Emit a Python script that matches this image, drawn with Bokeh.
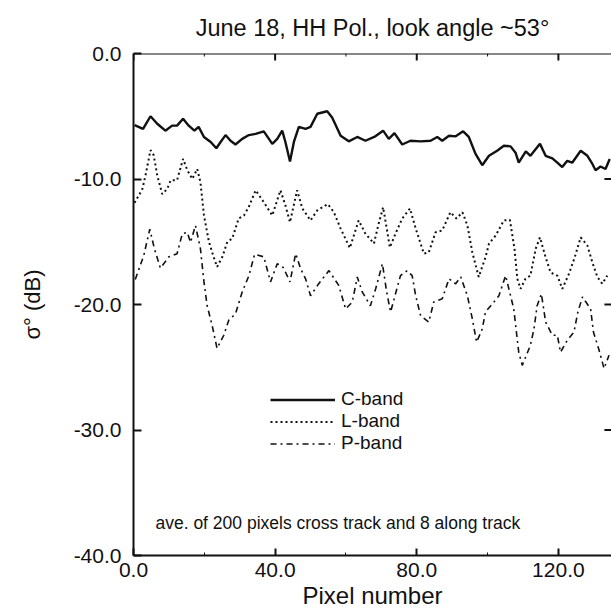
from bokeh.plotting import figure
from bokeh.models import LinearAxis, Range1d, Label, PrintfTickFormatter, FixedTicker, Legend, Span
from bokeh.embed import file_html
from bokeh.resources import INLINE

title_text = "June 18, HH Pol., look angle ~53\u00b0"
x_label = "Pixel number"
y_label = "\u03c3\u00b0 (dB)"
note_text = "ave. of 200 pixels cross track and 8 along track"
series_names = ["C-band", "L-band", "P-band"]
x_ticks = [0, 40, 80, 120]
x_minor_ticks = [20, 60, 100]
y_ticks = [0, -10, -20, -30, -40]
right_ticks = [-10, -20, -30]

c_x = [0.3, 2.7, 4.8, 6.7, 9.0, 10.9, 12.3, 14.0, 15.6, 17.2, 18.4, 19.9, 21.8, 23.4, 24.6, 26.0,
       27.4, 28.8, 30.7, 32.6, 34.5, 36.8, 39.2, 40.6, 42.0, 42.9, 44.2, 45.3, 46.7, 48.6, 50.0,
       51.9, 54.7, 56.1, 58.5, 60.8, 63.2, 65.5, 68.3, 70.5, 72.1, 73.7, 75.9, 78.2, 81.1, 83.9,
       85.8, 87.2, 89.1, 91.0, 93.1, 94.7, 96.6, 98.5, 100.4, 102.7, 104.6, 106.5, 107.9, 108.8,
       110.8, 112.1, 114.8, 116.4, 118.3, 119.7, 121.1, 122.5, 123.9, 126.3, 128.2, 129.6, 130.5,
       131.9, 133.3, 134.5]
c_db = [-5.7, -6.0, -5.0, -5.6, -6.15, -5.75, -5.75, -5.2, -5.75, -6.15, -5.85, -6.65, -7.05, -7.55,
        -7.05, -6.5, -6.95, -7.25, -6.8, -6.5, -6.4, -6.2, -7.2, -6.8, -6.15, -7.05, -8.6, -7.05,
        -5.85, -6.0, -5.85, -4.8, -4.6, -5.1, -6.55, -7.0, -6.65, -6.95, -6.6, -6.15, -6.8, -6.35,
        -7.25, -6.95, -7.0, -6.95, -6.65, -6.95, -6.55, -6.6, -6.2, -6.65, -8.0, -8.9, -8.15, -7.75,
        -7.35, -7.4, -7.9, -8.7, -7.8, -8.15, -7.2, -8.15, -8.35, -8.7, -9.05, -8.55, -8.7, -7.75,
        -8.15, -8.8, -9.3, -9.0, -9.2, -8.4]

l_x = [0.3, 2.5, 3.4, 4.8, 5.7, 6.7, 8.1, 9.5, 10.5, 12.3, 14.0, 15.2, 16.6, 18.0, 18.9, 19.9, 21.3,
       22.5, 23.6, 25.1, 26.5, 27.9, 29.7, 31.2, 32.6, 34.5, 36.8, 39.2, 41.5, 42.9, 44.2, 46.2,
       47.7, 50.0, 51.9, 54.9, 56.6, 58.5, 61.1, 63.6, 65.5, 67.9, 69.2, 70.5, 71.7, 72.4, 74.0,
       75.9, 78.1, 79.7, 82.0, 83.4, 85.3, 87.2, 89.5, 91.2, 92.9, 94.3, 95.7, 97.5, 99.4, 100.4,
       102.3, 104.6, 106.3, 107.6, 108.4, 109.3, 110.7, 112.1, 113.6, 114.8, 116.4, 117.8, 119.7,
       121.1, 123.0, 124.6, 126.3, 128.2, 129.6, 131.0, 132.4, 133.8]
l_db = [-11.9, -10.8, -9.7, -7.7, -8.1, -9.7, -11.2, -10.8, -10.1, -10.1, -8.4, -9.3, -10.0, -9.2,
        -10.25, -12.9, -15.0, -16.1, -17.0, -16.2, -15.0, -14.75, -13.15, -12.9, -12.2, -10.9,
        -11.85, -12.9, -10.9, -12.1, -13.45, -10.9, -12.35, -13.3, -12.5, -12.0, -12.65, -13.95,
        -15.5, -13.3, -14.35, -15.15, -13.6, -12.25, -14.25, -15.45, -14.35, -13.15, -12.35,
        -13.95, -15.95, -15.85, -14.25, -14.1, -12.65, -13.15, -12.65, -13.7, -15.85, -17.8,
        -16.25, -15.15, -14.5, -13.3, -13.25, -15.55, -17.95, -18.75, -17.95, -17.7, -15.55,
        -14.65, -16.25, -17.45, -17.7, -18.75, -17.55, -16.25, -14.65, -15.3, -16.65, -17.8,
        -18.35, -17.7]

p_x = [0.5, 2.9, 4.6, 5.9, 7.6, 10.0, 12.3, 13.8, 15.2, 16.1, 17.5, 18.9, 19.9, 20.8, 22.2, 23.6,
       25.5, 26.9, 28.8, 30.7, 32.6, 34.2, 36.8, 38.7, 40.6, 42.3, 44.2, 45.8, 47.2, 48.6, 50.0,
       52.3, 55.2, 58.0, 59.9, 61.8, 63.2, 64.6, 66.9, 68.4, 70.3, 71.5, 72.6, 75.4, 77.3, 78.7,
       79.7, 81.1, 83.4, 84.8, 87.2, 89.1, 91.0, 92.4, 94.3, 95.7, 96.9, 98.5, 99.4, 101.8, 103.2,
       105.1, 107.4, 108.8, 109.8, 112.1, 113.1, 114.0, 115.2, 116.4, 118.3, 119.7, 120.6, 122.5,
       124.4, 125.5, 126.8, 129.1, 129.9, 131.4, 132.9, 134.3]
p_db = [-18.0, -16.1, -14.0, -15.55, -17.1, -16.2, -15.95, -14.35, -14.25, -15.05, -13.7, -15.55,
        -18.2, -20.1, -21.65, -23.5, -22.45, -21.25, -20.75, -19.0, -17.7, -16.0, -16.2, -18.2,
        -16.75, -17.05, -18.2, -15.95, -17.15, -17.95, -19.3, -18.35, -17.3, -18.5, -20.35, -19.8,
        -17.8, -19.0, -20.1, -18.75, -16.75, -19.0, -20.6, -17.7, -17.3, -17.7, -19.3, -20.9,
        -21.4, -19.8, -19.55, -17.95, -18.35, -17.8, -19.3, -21.15, -23.0, -21.95, -20.6, -19.8,
        -19.3, -17.7, -20.35, -23.8, -24.85, -23.25, -21.95, -20.1, -19.15, -21.4, -22.45, -22.45,
        -23.8, -22.85, -22.2, -20.6, -19.4, -20.35, -22.2, -23.55, -25.1, -24.05]

FONT = "Liberation Sans"
INK = "#111111"
X_MAX, Y_MIN, Y_MAX = 135, -40, 0

p = figure(width=611, height=613, output_backend="svg", toolbar_location=None,
           x_range=Range1d(0, X_MAX), y_range=Range1d(Y_MIN, Y_MAX),
           min_border_left=133, min_border_right=0, min_border_top=53, min_border_bottom=58,
           x_axis_location=None, y_axis_location=None)
p.outline_line_color = None
p.xgrid.visible = False
p.ygrid.visible = False
p.background_fill_color = "white"
p.border_fill_color = "white"

p.title.text = title_text
p.title.text_font = FONT
p.title.text_font_size = "23.5px"
p.title.text_font_style = "normal"
p.title.text_color = INK
p.title.align = "center"
p.title.vertical_align = "top"
p.title.standoff = 22


def style_axis(ax):
    ax.axis_line_width = 2
    ax.axis_line_color = INK
    ax.major_tick_line_width = 2
    ax.major_tick_line_color = INK
    ax.major_tick_in = 7
    ax.major_tick_out = 0
    ax.minor_tick_in = 3
    ax.minor_tick_out = 0
    ax.minor_tick_line_width = 1
    ax.minor_tick_line_color = INK
    ax.major_label_text_font = FONT
    ax.major_label_text_font_size = "21px"
    ax.major_label_text_color = INK
    ax.formatter = PrintfTickFormatter(format="%.1f")
    ax.axis_label_text_font = FONT
    ax.axis_label_text_font_style = "normal"
    ax.axis_label_text_color = INK


bottom = LinearAxis(ticker=FixedTicker(ticks=x_ticks, minor_ticks=x_minor_ticks), axis_label=x_label)
style_axis(bottom)
bottom.major_label_standoff = 7
bottom.axis_label_text_font_size = "24px"
bottom.axis_label_standoff = 2
p.add_layout(bottom, "below")

left = LinearAxis(ticker=FixedTicker(ticks=y_ticks), axis_label=y_label)
style_axis(left)
left.minor_tick_line_color = None
left.major_tick_in = 8
left.major_label_standoff = 12
left.axis_label_text_font_size = "22px"
left.axis_label_standoff = 26
p.add_layout(left, "left")

# top frame line with inward ticks, right side inward ticks (no labels)
p.add_layout(Span(location=Y_MAX, dimension="width", line_color=INK, line_width=2))
p.segment(x0=x_ticks, y0=[Y_MAX] * len(x_ticks), x1=x_ticks, y1=[Y_MAX - 0.56] * len(x_ticks),
          line_color=INK, line_width=2)
p.segment(x0=x_minor_ticks, y0=[Y_MAX] * len(x_minor_ticks), x1=x_minor_ticks,
          y1=[Y_MAX - 0.24] * len(x_minor_ticks), line_color=INK, line_width=1)
p.segment(x0=[X_MAX] * len(right_ticks), y0=right_ticks, x1=[X_MAX - 2.0] * len(right_ticks),
          y1=right_ticks, line_color=INK, line_width=2)

r_c = p.line(c_x, c_db, line_color=INK, line_width=2.4)
r_l = p.line(l_x, l_db, line_color=INK, line_width=2.0, line_dash="2 3")
r_p = p.line(p_x, p_db, line_color=INK, line_width=1.6, line_dash="6 4 2 4")

legend = Legend(items=[(series_names[0], [r_c]), (series_names[1], [r_l]), (series_names[2], [r_p])],
                location=(137, 101))
legend.border_line_color = None
legend.background_fill_alpha = 0
legend.label_text_font = FONT
legend.label_text_font_size = "19px"
legend.label_text_color = INK
legend.glyph_width = 65
legend.glyph_height = 21
legend.label_height = 21
legend.label_standoff = 6
legend.spacing = 0
legend.padding = 0
legend.margin = 0
p.add_layout(legend)

note = Label(x=6.2, y=-37.4, text=note_text, text_font=FONT, text_font_size="17.5px",
             text_color=INK, text_baseline="middle")
p.add_layout(note)

open("out.html", "w").write(file_html(p, INLINE))
